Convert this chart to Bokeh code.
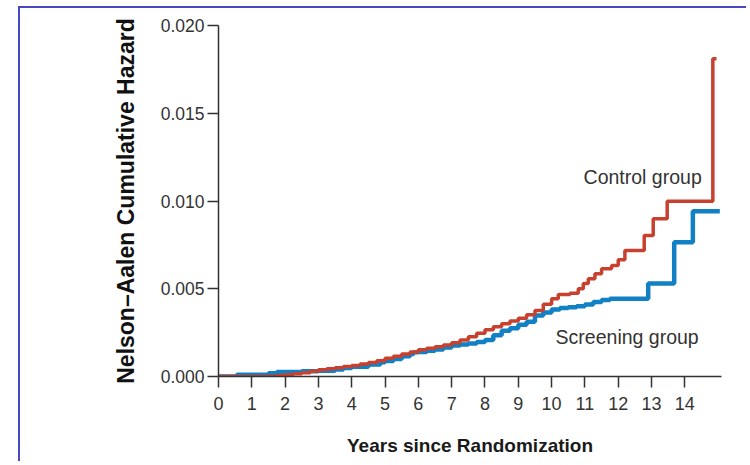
from bokeh.plotting import figure
from bokeh.layouts import column
from bokeh.models import Range1d, FixedTicker, NumeralTickFormatter
from bokeh.core.properties import value
from bokeh.embed import file_html
from bokeh.resources import INLINE

# ---- data ----
year_ticks = list(range(15))
hazard_ticks = [0.000, 0.005, 0.010, 0.015, 0.020]

control_years = [0.0, 0.5, 1.0, 1.5, 1.75, 2.0, 2.25, 2.5, 2.75, 3.0, 3.25, 3.5, 3.75,
                 4.0, 4.25, 4.5, 4.75, 5.0, 5.25, 5.5, 5.75, 6.0, 6.25, 6.5, 6.75,
                 7.0, 7.25, 7.5, 7.75, 8.0, 8.25, 8.5, 8.75, 9.0, 9.25, 9.5, 9.75,
                 10.0, 10.2, 10.55, 10.8, 10.95, 11.1, 11.3, 11.5, 11.8, 12.0, 12.2,
                 12.78, 13.05, 13.47, 14.84, 14.95]
control_hazard = [0.0, 0.0, 0.0, 0.00002, 0.00005, 0.0001, 0.00015, 0.00022, 0.0003,
                  0.00038, 0.00044, 0.0005, 0.00057, 0.00063, 0.00071, 0.0008, 0.0009,
                  0.00104, 0.00116, 0.00128, 0.0014, 0.00152, 0.00161, 0.0017, 0.0018,
                  0.00192, 0.00208, 0.00226, 0.00246, 0.00266, 0.00283, 0.003, 0.00316,
                  0.00332, 0.00352, 0.00376, 0.00412, 0.00443, 0.00467, 0.00475, 0.005,
                  0.0053, 0.00557, 0.00585, 0.00614, 0.00632, 0.00665, 0.00718, 0.00803,
                  0.00899, 0.00999, 0.0181, 0.0181]

screen_years = [0.0, 0.55, 1.0, 1.5, 1.75, 2.0, 2.5, 3.0, 3.5, 3.75, 4.0, 4.5, 4.86,
                5.0, 5.25, 5.5, 5.75, 5.86, 6.0, 6.25, 6.5, 6.75, 7.0, 7.25, 7.5, 7.75,
                8.0, 8.25, 8.5, 8.75, 9.0, 9.25, 9.5, 9.75, 10.0, 10.25, 10.5, 10.75,
                11.0, 11.25, 11.5, 11.75, 12.9, 13.68, 14.24, 15.05]
screen_hazard = [0.0, 0.0001, 0.0001, 0.00018, 0.00025, 0.00025, 0.0003, 0.00033,
                 0.0004, 0.00048, 0.00055, 0.00068, 0.00081, 0.00088, 0.001, 0.00116,
                 0.00128, 0.00138, 0.0014, 0.00147, 0.00154, 0.00165, 0.00177, 0.00183,
                 0.00188, 0.00196, 0.00208, 0.00235, 0.0026, 0.00275, 0.00295, 0.00312,
                 0.00348, 0.00365, 0.00382, 0.0039, 0.00395, 0.004, 0.0041, 0.00425,
                 0.00436, 0.00443, 0.0053, 0.00765, 0.00942, 0.00942]

RED = "#c8402e"
BLUE = "#1180c4"
TXT = "#333333"
FRAME = "#4848c0"

p = figure(width=728, height=455, x_range=Range1d(0, 15.1), y_range=Range1d(0, 0.020),
           output_backend="svg", toolbar_location=None,
           min_border_left=198, min_border_right=27, min_border_top=17, min_border_bottom=87)
p.outline_line_color = None
p.xgrid.visible = False
p.ygrid.visible = False
p.background_fill_color = "white"
p.border_fill_color = "white"

for ax in (p.xaxis[0], p.yaxis[0]):
    ax.axis_line_color = "#333333"
    ax.axis_line_width = 1.5
    ax.major_tick_line_color = "#333333"
    ax.major_tick_line_width = 1.5
    ax.major_tick_in = 0
    ax.major_tick_out = 11
    ax.minor_tick_line_color = None
    ax.major_label_text_font = "Liberation Sans"
    ax.major_label_text_color = TXT

p.xaxis.major_label_text_font_size = "18px"
p.yaxis.major_label_text_font_size = "17.5px"
p.xaxis.ticker = FixedTicker(ticks=year_ticks)
p.yaxis.ticker = FixedTicker(ticks=hazard_ticks)
p.yaxis.formatter = NumeralTickFormatter(format="0.000")
p.xaxis.major_label_standoff = 9
p.yaxis.major_label_standoff = 3

p.xaxis.axis_label = "Years since Randomization"
p.xaxis.axis_label_text_font = "Liberation Sans"
p.xaxis.axis_label_text_font_style = "bold"
p.xaxis.axis_label_text_font_size = "19px"
p.xaxis.axis_label_text_color = "#1a1a1a"
p.xaxis.axis_label_standoff = 22

p.yaxis.axis_label = "Nelson\u2013Aalen Cumulative Hazard"
p.yaxis.axis_label_text_font = "Liberation Sans"
p.yaxis.axis_label_text_font_style = "bold"
p.yaxis.axis_label_text_font_size = "23px"
p.yaxis.axis_label_text_color = "#111111"
p.yaxis.axis_label_standoff = 19

p.step(screen_years, screen_hazard, mode="after", line_color=BLUE, line_width=4.5)
p.step(control_years, control_hazard, mode="after", line_color=RED, line_width=3.5)

p.text(x=[10.96], y=[0.01134], text=["Control group"], text_font=value("Liberation Sans"),
       text_font_size="19.5px", text_color=TXT, text_baseline="alphabetic", text_align="left")
p.text(x=[10.12], y=[0.00224], text=["Screening group"], text_font=value("Liberation Sans"),
       text_font_size="19.5px", text_color=TXT, text_baseline="alphabetic", text_align="left")

# page frame (left and top edges), drawn on a wrapping container
page = column(p, margin=(8, 0, 0, 20),
              styles={"box-shadow": f"-2px -2px 0px 0px {FRAME}"})

open("out.html", "w").write(file_html(page, INLINE))
